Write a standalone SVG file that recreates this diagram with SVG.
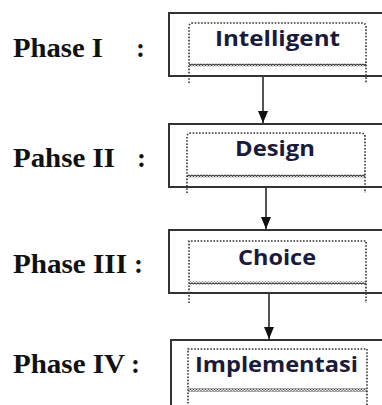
<svg xmlns="http://www.w3.org/2000/svg" width="382" height="405" viewBox="0 0 382 405">
<defs>
<pattern id="wave" x="0" y="0" width="3" height="3" patternUnits="userSpaceOnUse">
<polyline points="0,0.5 1.5,2.5 3,0.5" fill="none" stroke="#333" stroke-width="1.1"/>
</pattern>
<marker id="ah" markerWidth="12" markerHeight="10" refX="12" refY="5" orient="auto" markerUnits="userSpaceOnUse" viewBox="0 0 12 10">
<path d="M0,0 L12,5 L0,10 Z" fill="#111"/>
</marker>
</defs>
<style>
.box{fill:#fff;stroke:#333;stroke-width:2}
.dot{fill:none;stroke:#333;stroke-width:1.6;stroke-dasharray:1.6 1.6}
.lbl{font-family:"Liberation Serif","Times New Roman",serif;font-weight:bold;font-size:27px;fill:#111}
.t{font-family:"Open Sans","Liberation Sans",sans-serif;font-weight:bold;font-size:22px;fill:#1a1a3c;text-anchor:start}
.con{stroke:#555;stroke-width:2;fill:none}
</style>
<rect width="382" height="405" fill="#fff"/>
<g id="labels">
<text class="lbl" x="13" y="57" textLength="90" lengthAdjust="spacingAndGlyphs">Phase I</text>
<text class="lbl" x="136" y="57">:</text>
<text class="lbl" x="13" y="167" textLength="102" lengthAdjust="spacingAndGlyphs">Pahse II</text>
<text class="lbl" x="137" y="167">:</text>
<text class="lbl" x="13" y="273" textLength="114" lengthAdjust="spacingAndGlyphs">Phase III</text>
<text class="lbl" x="134" y="273">:</text>
<text class="lbl" x="13" y="373" textLength="112" lengthAdjust="spacingAndGlyphs">Phase IV</text>
<text class="lbl" x="131" y="373">:</text>
</g>
<g id="connectors">
<line class="con" x1="263" y1="77" x2="263" y2="123" marker-end="url(#ah)"/>
<line class="con" x1="266" y1="188" x2="266" y2="229" marker-end="url(#ah)"/>
<line class="con" x1="269" y1="294" x2="269" y2="339" marker-end="url(#ah)"/>
</g>
<g id="node-intelligent">
<rect class="box" x="169" y="13" width="260" height="63"/>
<path class="dot" d="M189,83 V27 Q189,23 193,23 H362 Q366,23 366,27 V83"/>
<rect x="189" y="63.5" width="177" height="3" fill="url(#wave)"/>
<text class="t" x="215" y="46" textLength="125" lengthAdjust="spacingAndGlyphs">Intelligent</text>
</g>
<g id="node-design">
<rect class="box" x="169" y="124" width="260" height="63"/>
<path class="dot" d="M187,193 V137 Q187,133 191,133 H361 Q365,133 365,137 V193"/>
<rect x="187" y="174.5" width="178" height="3" fill="url(#wave)"/>
<text class="t" x="235" y="156" textLength="80" lengthAdjust="spacingAndGlyphs">Design</text>
</g>
<g id="node-choice">
<rect class="box" x="169" y="230" width="260" height="63"/>
<path class="dot" d="M189,303 V241 H366 V303"/>
<rect x="189" y="281.5" width="177" height="3" fill="url(#wave)"/>
<text class="t" x="238" y="265" textLength="78" lengthAdjust="spacingAndGlyphs">Choice</text>
</g>
<g id="node-implementasi">
<rect class="box" x="171" y="340" width="260" height="70"/>
<path class="dot" d="M188,410 V349 H367 V410"/>
<rect x="188" y="388.5" width="179" height="3" fill="url(#wave)"/>
<text class="t" x="195" y="372" textLength="163" lengthAdjust="spacingAndGlyphs">Implementasi</text>
</g>
</svg>
